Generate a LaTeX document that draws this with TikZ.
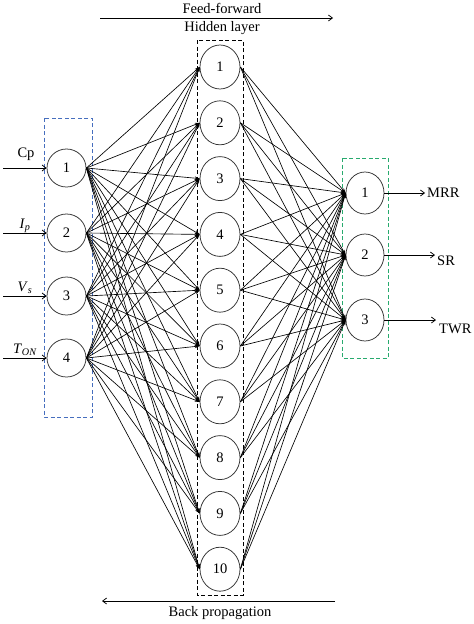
\documentclass[tikz,border=0pt]{standalone}
\usepackage{fontspec}
\setmainfont{Liberation Serif}
\usetikzlibrary{shapes.geometric,arrows.meta}
\begin{document}
\begin{tikzpicture}[x=1pt,y=-1pt,
  font=\fontsize{14.5}{16}\selectfont,
  neuron/.style={ellipse,draw=black!80,line width=0.75pt,inner sep=0pt,fill=white},
  inneuron/.style={neuron,minimum width=39pt,minimum height=38pt},
  hidneuron/.style={neuron,minimum width=40pt,minimum height=44pt},
  outneuron/.style={neuron,minimum width=38pt,minimum height=42pt},
  layerbox/.style={dash pattern=on 4pt off 2.5pt,line width=0.8pt},
  fan/.style={line width=0.65pt,-{Stealth[length=5pt,width=3.5pt]}},
  ioarrow/.style={line width=0.75pt,-{Straight Barb[length=4pt,width=6pt]}},
  lbl/.style={inner sep=0pt}
]
\useasboundingbox (0,0) rectangle (474,624);
\definecolor{boxblue}{RGB}{70,110,190}
\definecolor{boxgreen}{RGB}{40,170,110}

% layer boxes
\draw[layerbox,boxblue] (44,118) rectangle (92,417);
\draw[layerbox,black] (197,40) rectangle (243,595);
\draw[layerbox,boxgreen] (342,158) rectangle (388,358);

% input nodes
\node[inneuron] (i1) at (66.5,168) {1};
\node[inneuron] (i2) at (66.5,233) {2};
\node[inneuron] (i3) at (66.5,296) {3};
\node[inneuron] (i4) at (66.5,358) {4};

% hidden nodes
\foreach \k in {1,...,10}{
  \node[hidneuron] (h\k) at (220,{67+55.8*(\k-1)}) {\k};
}

% output nodes
\node[outneuron] (o1) at (365,193) {1};
\node[outneuron] (o2) at (365,255) {2};
\node[outneuron] (o3) at (365,320) {3};

% connections
\foreach \a in {1,...,4}{
  \foreach \k in {1,...,10}{
    \draw[fan] (i\a.east) -- (h\k.west);
  }
}
\foreach \k in {1,...,10}{
  \foreach \b in {1,...,3}{
    \draw[fan] (h\k.east) -- (o\b.west);
  }
}

% input arrows and labels
\coordinate (s1) at (3,168);
\coordinate (s2) at (3,233);
\coordinate (s3) at (3,296);
\coordinate (s4) at (3,358);
\draw[ioarrow] (s1) -- (i1.west);
\draw[ioarrow] (s2) -- (i2.west);
\draw[ioarrow] (s3) -- (i3.west);
\draw[ioarrow] (s4) -- (i4.west);
\node[lbl] (lcp) at (26,154) {Cp};
\node[lbl] (lip) at (25,226) {\textit{I}\textsubscript{\textit{p}}};
\node[lbl] (lvs) at (25,288) {\textit{V}\textsubscript{\textit{s}}};
\node[lbl] (lton) at (25,350) {\textit{T}\textsubscript{\textit{ON}}};

% output arrows and labels
\coordinate (e1) at (425,193);
\coordinate (e2) at (435,255);
\coordinate (e3) at (436,320);
\draw[ioarrow] (o1.east) -- (e1);
\draw[ioarrow] (o2.east) -- (e2);
\draw[ioarrow] (o3.east) -- (e3);
\node[lbl,anchor=west] (lmrr) at (427,193) {MRR};
\node[lbl,anchor=west] (lsr) at (437,261) {SR};
\node[lbl,anchor=west] (ltwr) at (439,329) {TWR};

% feed-forward / back propagation
\coordinate (ffs) at (100,18);
\coordinate (ffe) at (333,18);
\draw[ioarrow] (ffs) -- (ffe);
\node[lbl] (ff) at (222,8) {Feed-forward};
\node[lbl] (hl) at (222,28) {Hidden layer};
\coordinate (bps) at (335,601);
\coordinate (bpe) at (102,601);
\draw[ioarrow] (bps) -- (bpe);
\node[lbl] (bp) at (220,613) {Back propagation};
\end{tikzpicture}
\end{document}
